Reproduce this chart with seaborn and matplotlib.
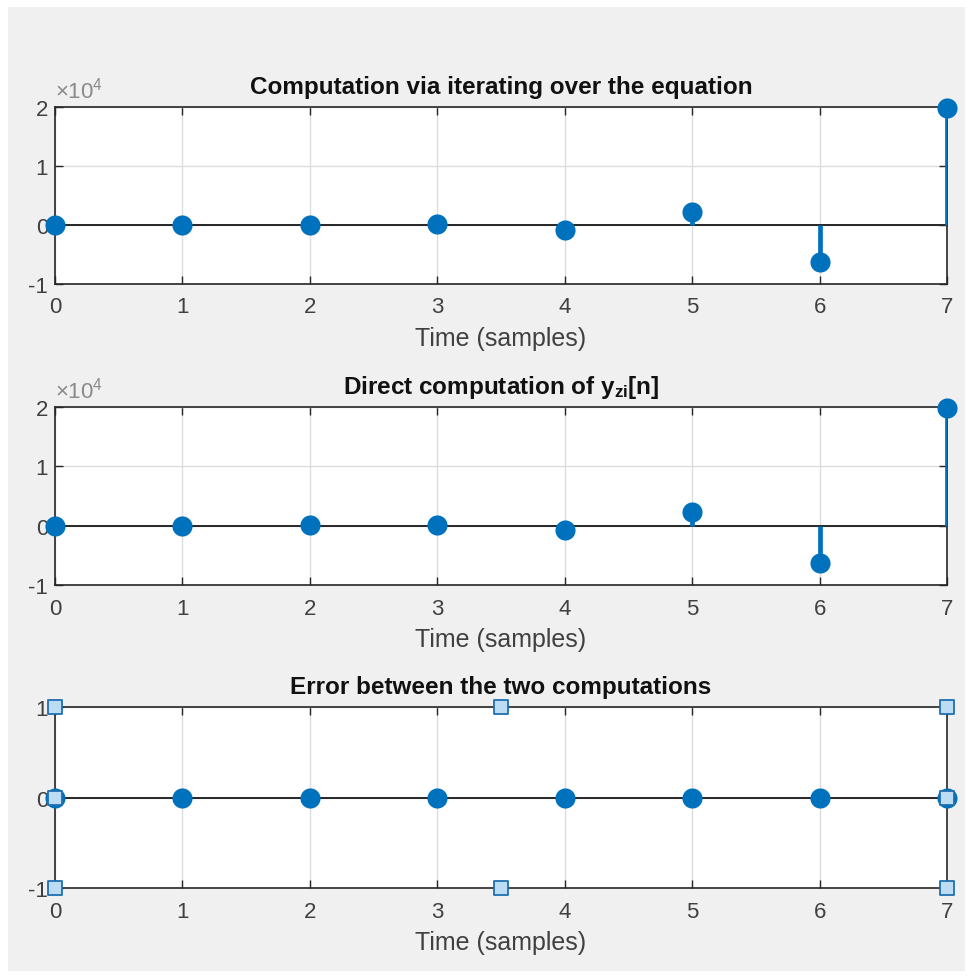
import numpy as np
import pandas as pd
import seaborn as sns
import matplotlib.pyplot as plt
from matplotlib.patches import Rectangle

# sample index and the values
n = [0, 1, 2, 3, 4, 5, 6, 7]
y_iter = [5, -15, 40, 180, -800, 2250, -6350, 19800]
y_direct = [5, -15, 40, 180, -800, 2250, -6350, 19800]
err = [0, 0, 0, 0, 0, 0, 0, 0]

# selection handles drawn on the third axes
handle_x = [0, 3.5, 7, 0, 7, 0, 3.5, 7]
handle_y = [1, 1, 1, 0, 0, -1, -1, -1]

titles = ['Computation via iterating over the equation',
          r'Direct computation of $\mathbf{y_{zi}}$[n]',
          'Error between the two computations']

big_ticks = [-1e4, 0, 1e4, 2e4]
big_labels = ['-1', '0', '1', '2']
err_ticks = [-1, 0, 1]
err_labels = ['-1', '0', '1']

sns.set_style('white')
plt.rcParams['font.family'] = ['Liberation Sans', 'DejaVu Sans']
plt.rcParams['mathtext.fontset'] = 'custom'
plt.rcParams['mathtext.bf'] = 'Liberation Sans:bold'
plt.rcParams['mathtext.rm'] = 'Liberation Sans'
plt.rcParams['axes.unicode_minus'] = False

blue = '#0072BD'
grey_txt = '#404040'

fig = plt.figure(figsize=(9.73, 9.78), dpi=100, facecolor='white')
fig.patches.append(Rectangle((0.008, 0.006), 0.984, 0.986, transform=fig.transFigure,
                             facecolor='#f0f0f0', edgecolor='none', zorder=-10))

positions = [[0.0565, 0.7086, 0.9168, 0.181],
             [0.0565, 0.4008, 0.9168, 0.182],
             [0.0565, 0.0910, 0.9168, 0.185]]

series = [y_iter, y_direct, err]

for i, (pos, vals, title) in enumerate(zip(positions, series, titles)):
    ax = fig.add_axes(pos)
    ax.set_facecolor('white')
    df = pd.DataFrame({'n': n, 'y': vals})
    ax.vlines(df['n'], 0, df['y'], color=blue, lw=3.4, zorder=3)
    ax.axhline(0, color='#262626', lw=1.4, zorder=2)
    sns.scatterplot(data=df, x='n', y='y', ax=ax, s=210, color=blue,
                    edgecolor=blue, linewidth=0, zorder=4, clip_on=False)
    ax.set_xlim(0, 7)
    ax.set_xticks(n)
    if i < 2:
        ax.set_ylim(-1e4, 2e4)
        ax.set_yticks(big_ticks)
        ax.set_yticklabels(big_labels)
        ax.text(0.0, 1.025, r'$\times10^4$', transform=ax.transAxes, fontsize=16,
                color='#8a8a8a', ha='left', va='bottom')
    else:
        ax.set_ylim(-1, 1)
        ax.set_yticks(err_ticks)
        ax.set_yticklabels(err_labels)
        ax.scatter(handle_x, handle_y, marker='s', s=90, facecolor='#bcdcf4',
                   edgecolor='#1f6fb0', linewidth=1.3, zorder=5, clip_on=False)
    ax.grid(True, color='#dcdcdc', lw=1)
    ax.set_axisbelow(True)
    ax.tick_params(direction='in', length=6, width=1, colors='#262626',
                   labelcolor=grey_txt, labelsize=16, top=True, right=True,
                   bottom=True, left=True)
    ax.tick_params(axis='x', pad=9)
    ax.tick_params(axis='y', pad=5)
    for sp in ax.spines.values():
        sp.set_color('#262626')
        sp.set_linewidth(1.2)
    ax.set_xlabel('Time (samples)', fontsize=18, color=grey_txt, labelpad=6)
    ax.set_ylabel('')
    ax.set_title(title, fontsize=17.5, fontweight='bold', color='#111111', pad=10)

fig.savefig('out.png', dpi=100, facecolor=fig.get_facecolor())
